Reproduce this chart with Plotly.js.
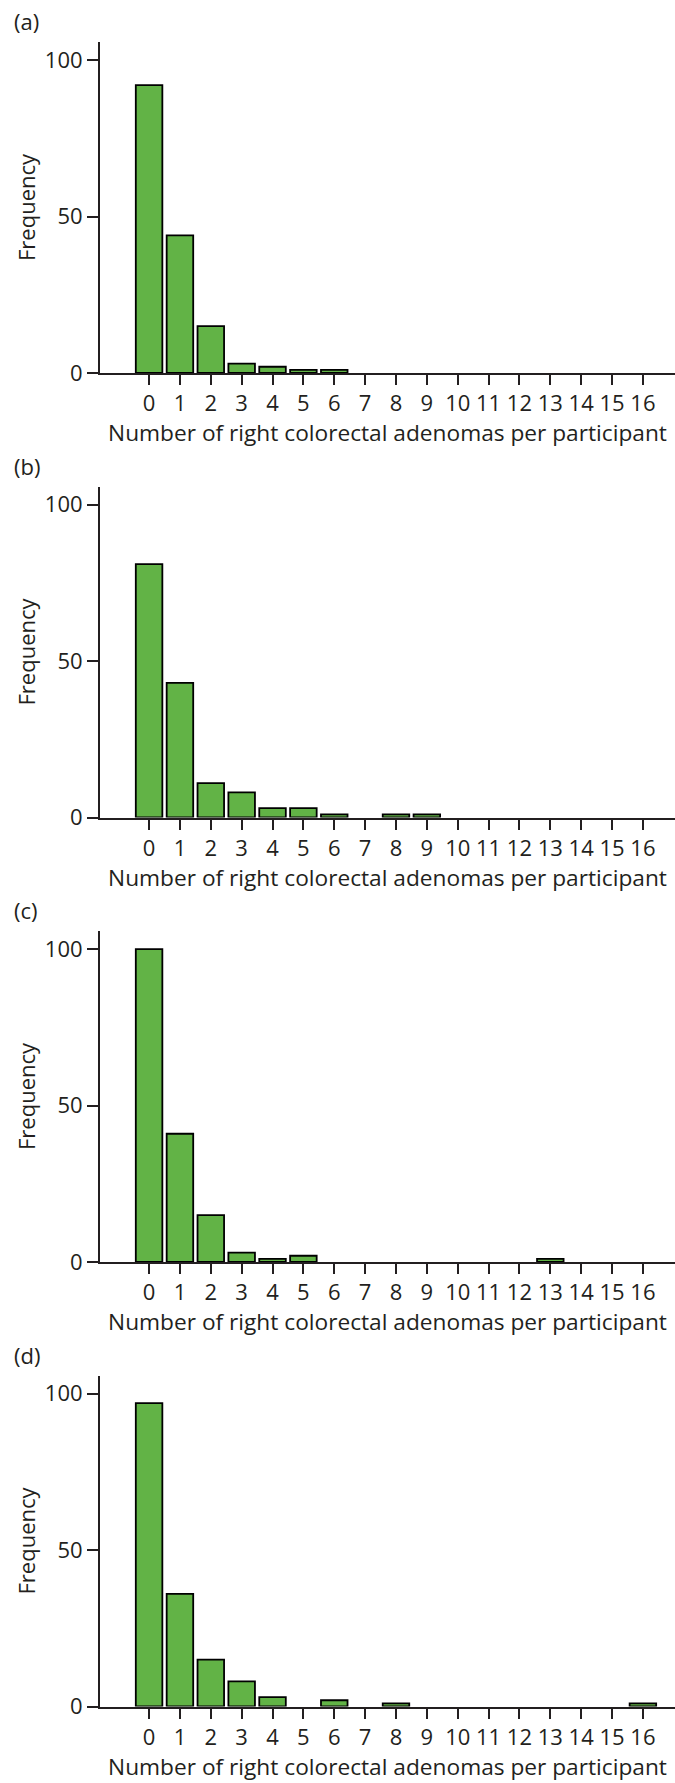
<!DOCTYPE html>
<html>
<head>
<meta charset="utf-8">
<script src="https://cdn.plot.ly/plotly-3.0.1.min.js"></script>
<style>html,body{margin:0;padding:0;background:#fff;}#chart{width:675px;height:1783px;}</style>
</head>
<body>
<div id="chart"></div>
<script>
// Data: number of right colorectal adenomas per participant (0..16) and frequency
const adenomaCounts = [0,1,2,3,4,5,6,7,8,9,10,11,12,13,14,15,16];
const tickLabels = ["0","1","2","3","4","5","6","7","8","9","10","11","12","13","14","15","16"];
const freqA = [92,44,15,3,2,1,1,0,0,0,0,0,0,0,0,0,0];
const freqB = [81,43,11,8,3,3,1,0,1,1,0,0,0,0,0,0,0];
const freqC = [100,41,15,3,1,2,0,0,0,0,0,0,0,1,0,0,0];
const freqD = [97,36,15,8,3,0,2,0,1,0,0,0,0,0,0,0,1];
const panelLabels = ["(a)","(b)","(c)","(d)"];
const xTitle = "Number of right colorectal adenomas per participant";
const yTitle = "Frequency";
const yTicks = [0,50,100];

const series = [freqA, freqB, freqC, freqD];
const W = 675, H = 1783;
const ink = '#231f20';
const FONT = 'Open Sans, Noto Sans, sans-serif';
const FS = 22;
const bottoms = [373, 817.5, 1262, 1706.5];
const plotH = 331;

const traces = [];
const layout = {
  width: W, height: H,
  margin: {l:0, r:0, t:0, b:0},
  paper_bgcolor: '#ffffff', plot_bgcolor: '#ffffff',
  showlegend: false,
  font: {family: FONT, size: FS, color: ink},
  annotations: []
};

series.forEach((vals, i) => {
  const k = i === 0 ? '' : String(i + 1);
  traces.push({
    type: 'bar',
    x: adenomaCounts,
    y: vals,
    width: 0.86,
    xaxis: 'x' + k, yaxis: 'y' + k,
    marker: {
      color: '#62b346',
      line: {color: '#000000', width: vals.map(v => v > 0 ? 1.8 : 0)}
    },
    hoverinfo: 'x+y'
  });
  const b = bottoms[i], t = b - plotH;
  layout['xaxis' + k] = {
    domain: [100 / W, 1],
    anchor: 'y' + k,
    range: [-1.59, 17.04],
    tickmode: 'array', tickvals: adenomaCounts, ticktext: tickLabels,
    showline: true, linecolor: ink, linewidth: 2,
    ticks: 'outside', ticklen: 10, tickwidth: 2, tickcolor: ink,
    showgrid: false, zeroline: false,
    tickfont: {family: FONT, size: FS, color: ink},
    title: {text: xTitle, font: {family: FONT, size: 22.7, color: ink}, standoff: 8}
  };
  layout['yaxis' + k] = {
    domain: [(H - b) / H, (H - t) / H],
    anchor: 'x' + k,
    range: [0, 105.8],
    tickmode: 'array', tickvals: yTicks,
    showline: true, linecolor: ink, linewidth: 2,
    ticks: 'outside', ticklen: 11, tickwidth: 2, tickcolor: ink,
    showgrid: false, zeroline: false,
    tickfont: {family: FONT, size: FS, color: ink},
    title: {text: yTitle, font: {family: FONT, size: FS, color: ink}, standoff: 3}
  };
  layout.annotations.push({
    text: panelLabels[i], showarrow: false,
    xref: 'paper', yref: 'paper',
    x: 12 / W, xanchor: 'left',
    y: (H - (21 + i * 444.5)) / H, yanchor: 'middle',
    font: {family: FONT, size: FS, color: ink}
  });
});

Plotly.newPlot('chart', traces, layout, {displayModeBar: false, staticPlot: true});
</script>
</body>
</html>
